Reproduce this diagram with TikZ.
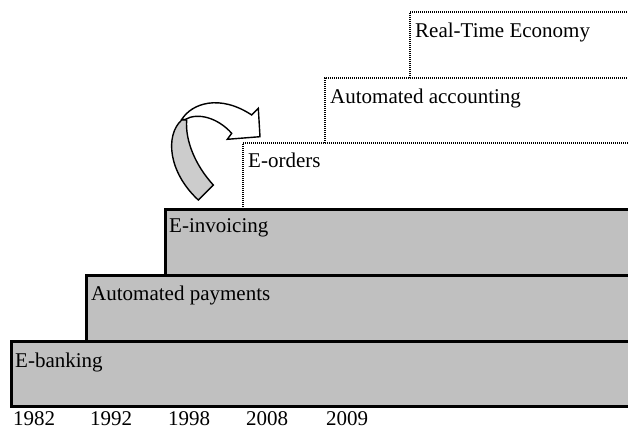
\documentclass[tikz,border=0pt]{standalone}
\usepackage{fontspec}
\setmainfont{Liberation Serif}
\definecolor{stepgrey}{RGB}{192,192,192}
\definecolor{arrowgrey}{RGB}{204,204,204}
\begin{document}
\begin{tikzpicture}[x=1pt,y=-1pt,
  stepfill/.style={fill=stepgrey},
  stepedge/.style={draw=black,line width=3pt,line cap=rect},
  dotstep/.style={draw=black,line width=2.6pt,dash pattern=on 1pt off 1pt},
  steplabel/.style={anchor=base west,inner sep=0pt,font=\fontsize{21}{25}\selectfont},
  yearlabel/.style={anchor=base west,inner sep=0pt,font=\fontsize{21}{25}\selectfont},
  ribbon/.style={draw=black,line width=1.4pt,line join=miter}]
\useasboundingbox (0,0) rectangle (628,431);
\clip (0,0) rectangle (628,431);

% solid steps (lowest three), open towards the right
\fill[stepfill] (11,341) rectangle (640,406);
\fill[stepfill] (86,275) rectangle (640,341);
\fill[stepfill] (165,209) rectangle (640,275);
\draw[stepedge] (640,406) -- (11,406) -- (11,341) -- (640,341);
\draw[stepedge] (86,341) -- (86,275) -- (640,275);
\draw[stepedge] (165,275) -- (165,209) -- (640,209);

% dotted steps (upper three)
\draw[dotstep] (243,209) -- (243,143) -- (640,143);
\draw[dotstep] (325,143) -- (325,78) -- (640,78);
\draw[dotstep] (410,78) -- (410,12) -- (640,12);

% step labels
\node[steplabel] (eb)  at (15,367)  {E-banking};
\node[steplabel] (ap)  at (91,300)  {Automated payments};
\node[steplabel] (ei)  at (169,232) {E-invoicing};
\node[steplabel] (eo)  at (248,167) {E-orders};
\node[steplabel] (aa)  at (330,103) {Automated accounting};
\node[steplabel] (rte) at (415,37)  {Real-Time Economy};

% years along the bottom
\node[yearlabel] (y1) at (13,425)  {1982};
\node[yearlabel] (y2) at (90,425)  {1992};
\node[yearlabel] (y3) at (168,425) {1998};
\node[yearlabel] (y4) at (246,425) {2008};
\node[yearlabel] (y5) at (326,425) {2009};

% curved block arrow: underside of the ribbon
\draw[ribbon,fill=arrowgrey]
  (181.7,120) .. controls (165,135) and (168,172) .. (198.3,200)
  -- (213.3,185) .. controls (195,165) and (185,140) .. (186.7,120) -- cycle;
% curved block arrow: upper face and head
\draw[ribbon,fill=white]
  (181.7,119.5) .. controls (192,103) and (220,94) .. (251.7,115)
  -- (258.3,108.3) -- (260,136.7) -- (227.3,139.3) -- (231.7,133.3)
  .. controls (218,118) and (198,112) .. (185,119.5) -- cycle;
\end{tikzpicture}
\end{document}
